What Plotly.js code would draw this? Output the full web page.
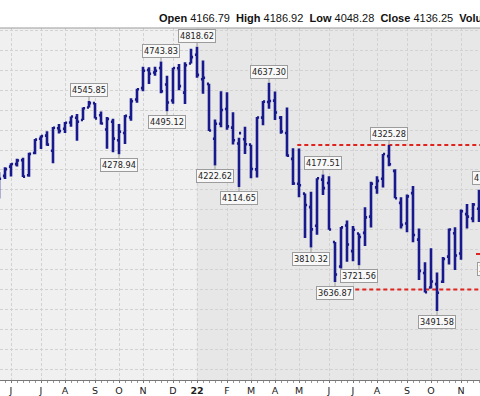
<!DOCTYPE html>
<html>
<head>
<meta charset="utf-8">
<script src="https://cdn.plot.ly/plotly-3.0.1.min.js"></script>
<style>
html,body{margin:0;padding:0;background:#fff;}
#chart{width:480px;height:396px;}
</style>
</head>
<body>
<div id="chart"></div>
<script>
// Weekly bars (week starting Monday)
const weeks = [
'2021-05-17','2021-05-24','2021-05-31','2021-06-07','2021-06-14','2021-06-21','2021-06-28','2021-07-05','2021-07-12','2021-07-19',
'2021-07-26','2021-08-02','2021-08-09','2021-08-16','2021-08-23','2021-08-30','2021-09-06','2021-09-13','2021-09-20','2021-09-27',
'2021-10-04','2021-10-11','2021-10-18','2021-10-25','2021-11-01','2021-11-08','2021-11-15','2021-11-22','2021-11-29','2021-12-06',
'2021-12-13','2021-12-20','2021-12-27','2022-01-03','2022-01-10','2022-01-17','2022-01-24','2022-01-31','2022-02-07','2022-02-14',
'2022-02-21','2022-02-28','2022-03-07','2022-03-14','2022-03-21','2022-03-28','2022-04-04','2022-04-11','2022-04-18','2022-04-25',
'2022-05-02','2022-05-09','2022-05-16','2022-05-23','2022-05-30','2022-06-06','2022-06-13','2022-06-20','2022-06-27','2022-07-04',
'2022-07-11','2022-07-18','2022-07-25','2022-08-01','2022-08-08','2022-08-15','2022-08-22','2022-08-29','2022-09-05','2022-09-12',
'2022-09-19','2022-09-26','2022-10-03','2022-10-10','2022-10-17','2022-10-24','2022-10-31','2022-11-07','2022-11-14','2022-11-21',
'2022-11-28'];
const opens = [
4169.92,4170.16,4216.52,4229.34,4248.87,4173.40,4284.90,4356.46,4372.41,4296.40,
4409.58,4406.86,4437.77,4461.65,4450.29,4513.76,4535.38,4474.81,4402.95,4442.12,
4348.84,4385.44,4463.72,4553.69,4610.62,4701.48,4689.30,4712.00,4628.75,4548.37,
4710.30,4587.90,4733.99,4778.14,4655.34,4632.24,4356.32,4431.79,4505.75,4412.61,
4332.74,4354.17,4327.01,4202.75,4462.40,4541.09,4547.97,4462.64,4385.63,4255.34,
4130.61,4081.27,4013.02,3919.42,4151.09,4134.72,3838.15,3715.31,3920.76,3792.61,
3880.94,3883.79,3965.72,4112.38,4155.93,4269.37,4195.08,4034.58,3930.89,4083.67,
3849.91,3682.72,3609.78,3626.87,3638.65,3764.66,3881.85,3780.71,3977.97,3956.23,
4005.36];
const highs = [
4188.72,4213.42,4233.45,4255.84,4261.66,4286.12,4355.01,4372.87,4393.68,4415.18,
4429.97,4440.82,4468.73,4480.26,4513.33,4545.85,4535.38,4492.99,4465.40,4457.30,
4429.97,4475.82,4559.67,4608.08,4718.50,4714.92,4717.75,4743.83,4672.95,4713.57,
4731.99,4740.74,4808.93,4818.62,4748.83,4632.24,4453.23,4595.31,4590.03,4489.55,
4362.12,4416.78,4327.01,4465.40,4546.03,4637.30,4593.45,4471.00,4512.94,4308.45,
4307.66,4081.27,4090.72,4158.49,4177.51,4168.78,3838.15,3913.65,3945.86,3918.50,
3880.94,4012.44,4140.15,4167.66,4280.47,4325.28,4203.04,4062.99,4076.81,4119.28,
3906.03,3736.74,3806.91,3685.41,3762.79,3905.42,3911.79,4001.48,4028.84,4034.02,
4100.51];
const lows = [
4056.88,4154.28,4167.59,4217.27,4164.40,4165.25,4278.13,4304.65,4321.07,4233.13,
4382.64,4386.00,4416.75,4347.02,4450.29,4513.00,4457.66,4427.76,4305.91,4288.52,
4278.94,4329.92,4447.47,4537.36,4595.06,4630.86,4672.78,4585.43,4495.12,4532.76,
4600.22,4531.10,4733.99,4662.74,4582.24,4395.34,4222.62,4414.02,4401.41,4327.22,
4114.65,4279.54,4157.87,4161.72,4424.30,4507.57,4450.04,4381.34,4267.62,4124.28,
4062.51,3858.87,3810.32,3875.13,4073.85,3900.16,3636.87,3705.68,3738.67,3742.06,
3721.56,3818.63,3910.74,4079.81,4112.09,4218.70,4057.66,3906.21,3886.75,3837.08,
3647.47,3584.13,3604.93,3491.58,3632.00,3725.00,3698.15,3748.57,3906.54,3937.02,
3939.00];
const closes = [
4155.86,4204.11,4229.89,4247.44,4166.45,4280.70,4352.34,4369.55,4327.16,4411.79,
4395.26,4436.52,4468.00,4441.67,4509.37,4535.43,4458.58,4432.99,4455.48,4357.04,
4391.34,4471.37,4544.90,4605.38,4697.53,4682.85,4697.96,4594.62,4538.43,4712.02,
4620.64,4725.79,4766.18,4677.03,4662.85,4397.94,4431.85,4500.53,4418.64,4348.87,
4384.65,4328.87,4204.31,4463.12,4543.06,4545.86,4488.28,4392.59,4271.78,4131.93,
4123.34,4023.89,3901.36,4158.24,4108.54,3900.86,3674.84,3911.74,3825.33,3899.38,
3863.16,3961.63,4130.29,4145.19,4280.15,4228.48,4057.66,3924.26,4067.36,3873.33,
3693.23,3585.62,3639.66,3583.07,3752.75,3901.06,3770.55,3992.93,3965.34,4026.12,
4071.70];

// Month tick labels
const tickWeeks = ['2021-05-31','2021-07-05','2021-08-02','2021-09-06','2021-10-04','2021-11-01','2021-12-06','2022-01-03','2022-02-07','2022-03-07','2022-04-04','2022-05-02','2022-06-06','2022-07-04','2022-08-01','2022-09-05','2022-10-03','2022-11-07'];
const tickLabels = ['J','J','A','S','O','N','D','<b>22</b>','F','M','A','M','J','J','A','S','O','N'];

// Price labels on highs / lows
const labelWeeks  = ['2021-08-30','2021-10-04','2021-11-22','2021-11-29','2022-01-03','2022-01-24','2022-02-21','2022-03-28','2022-05-16','2022-05-30','2022-06-13','2022-07-11','2022-08-15','2022-10-10'];
const labelValues = [4545.85,4278.94,4743.83,4495.12,4818.62,4222.62,4114.65,4637.30,3810.32,4177.51,3636.87,3721.56,4325.28,3491.58];
const labelSides  = ['high','low','high','low','high','low','low','high','low','high','low','low','high','low'];

// Horizontal red levels
const levelValues = [4325.28, 3600];
const levelStarts = ['2022-04-30','2022-06-04'];

const header = {open:4166.79, high:4186.92, low:4048.28, close:4136.25};

const navy = '#17198c';
const trace = {
  type:'ohlc', x:weeks, open:opens, high:highs, low:lows, close:closes,
  increasing:{line:{color:navy, width:2.6}},
  decreasing:{line:{color:navy, width:2.6}},
  tickwidth:0.35, hoverinfo:'none', showlegend:false
};

const lblFont = {family:'DejaVu Sans, Verdana, sans-serif', size:8.2, color:'#222'};
const annotations = labelWeeks.map((w,i)=>({
  x:w, y:labelValues[i], xref:'x', yref:'y',
  text: labelValues[i].toFixed(2),
  showarrow:true, arrowhead:0, arrowwidth:1, arrowcolor:'#9a9a9a',
  ax:0, ay: labelSides[i]==='high' ? -11 : 11,
  bgcolor:'#f8f8f8', bordercolor:'#9c9c9c', borderwidth:1, borderpad:1,
  font:lblFont
}));
// partially visible labels at right edge
annotations.push({xref:'paper', yref:'y', x:472/480, y:4100.51, xanchor:'left', yanchor:'bottom', yshift:5,
  text:'4100.51', showarrow:false, bgcolor:'#f8f8f8', bordercolor:'#9c9c9c', borderwidth:1, borderpad:1, font:lblFont});
annotations.push({xref:'paper', yref:'y', x:477/480, y:3764.49, xanchor:'left', yanchor:'top', yshift:-5,
  text:'3764.49', showarrow:false, bgcolor:'#f8f8f8', bordercolor:'#9c9c9c', borderwidth:1, borderpad:1, font:lblFont});
// header
const sp = '\u00a0\u00a0';
annotations.push({
  xref:'paper', yref:'paper', x:157/480, y:1+(28-18.5)/352, xanchor:'left', yanchor:'middle', showarrow:false,
  text:'<b>Open</b> '+header.open.toFixed(2)+sp+'<b>High</b> '+header.high.toFixed(2)+sp+'<b>Low</b> '+header.low.toFixed(2)+sp+'<b>Close</b> '+header.close.toFixed(2)+sp+'<b>Volume</b>',
  font:{family:'Liberation Sans, Arial, sans-serif', size:11, color:'#111'}
});

const shapes = [
  {type:'rect', xref:'x', yref:'paper', x0:'2022-01-02 16:00', x1:'2023-03-01', y0:0, y1:1, fillcolor:'#e7e7e7', line:{width:0}, layer:'below'},
  {type:'line', xref:'paper', yref:'paper', x0:0, x1:1, y0:1, y1:1, line:{color:'#9a9a9a', width:1}}
];
levelValues.forEach((v,i)=>shapes.push({type:'line', xref:'x', yref:'y', x0:levelStarts[i], x1:'2022-11-29 04:00', y0:v, y1:v,
  line:{color:'#e0231c', width:2, dash:'4px,3px'}, layer:'between'}));
shapes.push({type:'line', xref:'paper', yref:'y', x0:476/480, x1:1, y0:3778, y1:3778, line:{color:'#e0231c', width:2}});

const layout = {
  width:480, height:396,
  margin:{l:0, r:0, t:28, b:16, pad:0},
  paper_bgcolor:'#ffffff', plot_bgcolor:'#f0f0f0',
  xaxis:{
    type:'date', range:['2021-05-18 04:00','2022-11-29 04:00'],
    tickmode:'array', tickvals:tickWeeks, ticktext:tickLabels,
    ticks:'outside', ticklen:2, tickcolor:'#777',
    showline:true, linecolor:'#777', linewidth:1,
    showgrid:true, gridcolor:'#d2d2d2', griddash:'3px,2px', gridwidth:1,
    tickfont:{family:'DejaVu Sans, Verdana, sans-serif', size:9.5, color:'#222'},
    minor:{dtick:7*86400000, tick0:'2021-05-31', ticks:'outside', ticklen:2, tickcolor:'#999', showgrid:false},
    rangeslider:{visible:false}, fixedrange:true, zeroline:false
  },
  yaxis:{
    range:[3145.4, 4912.5], dtick:100, tick0:0,
    showticklabels:false, ticks:'', showline:false, zeroline:false,
    showgrid:true, gridcolor:'#d2d2d2', griddash:'3px,2px', gridwidth:1, fixedrange:true
  },
  shapes:shapes, annotations:annotations, showlegend:false
};

Plotly.newPlot('chart', [trace], layout, {staticPlot:true, displayModeBar:false});
</script>
</body>
</html>
